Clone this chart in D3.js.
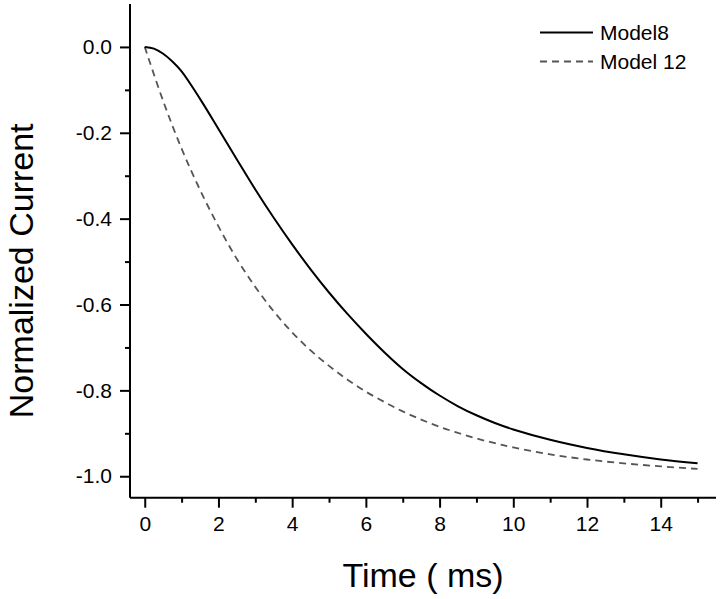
<!DOCTYPE html>
<html>
<head>
<meta charset="utf-8">
<script src="https://cdn.jsdelivr.net/npm/d3@7"></script>
<style>
  html, body { margin: 0; padding: 0; background: #fff; }
  svg { display: block; font-family: "Liberation Sans", Arial, sans-serif; }
</style>
</head>
<body>
<svg id="chart" width="720" height="599"></svg>
<script>
// ---- data ----
const timeMs8 = [0, 0.25, 0.5, 0.75, 1, 1.5, 2, 2.5, 3, 3.5, 4, 4.5, 5, 5.5, 6, 6.5, 7, 7.5, 8, 8.5, 9, 9.5, 10, 11, 12, 13, 14, 15];
const model8 = [0, -0.004, -0.016, -0.034, -0.057, -0.121, -0.191, -0.262, -0.332, -0.398, -0.46, -0.518, -0.572, -0.622, -0.668, -0.711, -0.75, -0.783, -0.812, -0.837, -0.858, -0.876, -0.891, -0.915, -0.934, -0.949, -0.961, -0.970];
const timeMs12 = [0, 0.5, 1, 1.5, 2, 2.5, 3, 3.5, 4, 4.5, 5, 5.5, 6, 6.5, 7, 7.5, 8, 8.5, 9, 9.5, 10, 11, 12, 13, 14, 15];
const model12 = [0, -0.126, -0.237, -0.333, -0.418, -0.494, -0.559, -0.616, -0.665, -0.707, -0.743, -0.775, -0.803, -0.827, -0.849, -0.868, -0.885, -0.899, -0.912, -0.923, -0.933, -0.949, -0.961, -0.970, -0.977, -0.983];
const seriesNames = ["Model8", "Model 12"];
const xMajorTicks = [0, 2, 4, 6, 8, 10, 12, 14];
const xMinorTicks = [1, 3, 5, 7, 9, 11, 13, 15];
const yMajorTicks = [0, -0.2, -0.4, -0.6, -0.8, -1.0];
const yMinorTicks = [-0.1, -0.3, -0.5, -0.7, -0.9];
const xTitle = "Time ( ms)";
const yTitle = "Normalized Current";

(function () {
// ---- layout ----
const svg = d3.select("#chart");
const pLeft = 130, pRight = 716, pTop = 4, pBottom = 497.7;
const x = d3.scaleLinear().domain([-0.4, 15.5]).range([pLeft, pRight]);
const y = d3.scaleLinear().domain([-1.05, 0.1]).range([pBottom, pTop]);

const fontSize = 21;

// x axis
const xAxisG = svg.append("g").attr("transform", `translate(0,${pBottom})`);
xAxisG.call(d3.axisBottom(x).tickValues(xMajorTicks).tickSize(10).tickPadding(8).tickFormat(d3.format("d")));
const xMinG = svg.append("g").attr("transform", `translate(0,${pBottom})`);
xMinG.call(d3.axisBottom(x).tickValues(xMinorTicks).tickSize(5).tickFormat(""));
xMinG.select(".domain").remove();

// y axis
const yAxisG = svg.append("g").attr("transform", `translate(${pLeft},0)`);
yAxisG.call(d3.axisLeft(y).tickValues(yMajorTicks).tickSize(10).tickPadding(8).tickFormat(d3.format(".1f")));
const yMinG = svg.append("g").attr("transform", `translate(${pLeft},0)`);
yMinG.call(d3.axisLeft(y).tickValues(yMinorTicks).tickSize(5).tickFormat(""));
yMinG.select(".domain").remove();

svg.selectAll(".domain").attr("stroke", "#000").attr("stroke-width", 2);
svg.selectAll(".tick line").attr("stroke", "#000").attr("stroke-width", 2);
svg.selectAll(".tick text").attr("font-size", fontSize).attr("fill", "#000")
   .attr("font-family", "'Liberation Sans', Arial, sans-serif");
xAxisG.select(".domain").attr("d", `M${pLeft},0H${pRight}`);
yAxisG.select(".domain").attr("d", `M0,${pTop}V${pBottom}`);
yAxisG.selectAll(".tick text").text(d => d3.format(".1f")(d).replace("−", "-"));

// ---- lines ----
const line = d3.line().x(d => x(d[0])).y(d => y(d[1])).curve(d3.curveCatmullRom.alpha(0.5));
const d8 = timeMs8.map((t, i) => [t, model8[i]]);
const d12 = timeMs12.map((t, i) => [t, model12[i]]);

svg.append("path").datum(d12).attr("d", line)
  .attr("fill", "none").attr("stroke", "#555").attr("stroke-width", 1.8)
  .attr("stroke-dasharray", "7,5");
svg.append("path").datum(d8).attr("d", line)
  .attr("fill", "none").attr("stroke", "#000").attr("stroke-width", 2);

// ---- legend ----
const legend = svg.append("g");
const legendRows = [
  { name: seriesNames[0], stroke: "#000", dash: null, w: 2, yy: 32.5 },
  { name: seriesNames[1], stroke: "#555", dash: "7,5", w: 1.8, yy: 61.5 }
];
legendRows.forEach(r => {
  legend.append("line").attr("x1", 540).attr("x2", 593).attr("y1", r.yy).attr("y2", r.yy)
    .attr("stroke", r.stroke).attr("stroke-width", r.w).attr("stroke-dasharray", r.dash);
  legend.append("text").attr("x", 600).attr("y", r.yy).attr("dy", "0.36em")
    .attr("font-size", fontSize).attr("fill", "#000").text(r.name);
});

// ---- titles ----
svg.append("text").attr("x", 423).attr("y", 587).attr("text-anchor", "middle")
  .attr("font-size", 34).attr("fill", "#000").text(xTitle);
svg.append("text").attr("transform", `translate(33,${(pTop + pBottom) / 2 + 20}) rotate(-90)`)
  .attr("text-anchor", "middle").attr("font-size", 34).attr("fill", "#000").text(yTitle);
})();
</script>
</body>
</html>
